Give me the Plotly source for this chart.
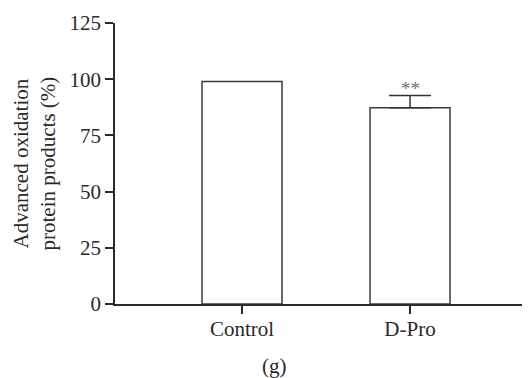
import plotly.graph_objects as go

categories = ["Control", "D-Pro"]
values = [99.0, 87.3]
errors_up = [0.0, 5.4]
y_ticks = [0, 25, 50, 75, 100, 125]
significance = "**"
y_title = "Advanced oxidation<br>protein products (%)"
panel_label = "(g)"

FONT = "Liberation Serif"
TXT = "#2a2a2a"
LINE = "#2a2a2a"

# page has an 8px body margin; figure sized/offset to compensate
PL, PT, PW, PH = 107, 15, 415, 281
FIG_W, FIG_H = 522, 370

fig = go.Figure()
fig.add_trace(go.Bar(
    x=categories, y=values, width=0.476,
    marker=dict(color="white", line=dict(color="#3a3a3a", width=1.5)),
    showlegend=False, hoverinfo="skip",
))
fig.add_trace(go.Scatter(
    x=[categories[1]], y=[values[1]], mode="markers",
    marker=dict(size=1, color="rgba(0,0,0,0)"),
    error_y=dict(type="data", symmetric=False, array=[errors_up[1]], arrayminus=[0],
                 width=21, thickness=1.5, color="#333333"),
    showlegend=False, hoverinfo="skip",
))

fig.add_annotation(x=categories[1], y=values[1] + errors_up[1], xref="x", yref="y",
                   text=significance, showarrow=False, yanchor="bottom", yshift=-5,
                   font=dict(family=FONT, size=19, color="#707070"))
fig.add_annotation(x=(26 - PL) / PW, y=0.5, xref="paper", yref="paper", text=y_title,
                   textangle=-90, showarrow=False, xanchor="center", yanchor="middle",
                   font=dict(family=FONT, size=21, color=TXT))
fig.add_annotation(x=(266 - PL) / PW, y=-(358 - (PT + PH)) / PH, xref="paper", yref="paper",
                   text=panel_label, showarrow=False, xanchor="center", yanchor="middle",
                   font=dict(family=FONT, size=21, color=TXT))

fig.update_layout(
    width=FIG_W, height=FIG_H, autosize=False,
    margin=dict(l=PL, r=FIG_W - PL - PW, t=PT, b=FIG_H - PT - PH, autoexpand=False),
    paper_bgcolor="white", plot_bgcolor="white",
    font=dict(family=FONT, size=21, color=TXT),
    xaxis=dict(range=[-0.756, 1.714], showline=True, linecolor=LINE, linewidth=1.5,
               ticks="outside", ticklen=8, tickwidth=1.5, tickcolor=LINE,
               ticklabelstandoff=-3,
               showgrid=False, zeroline=False, fixedrange=True, automargin=False,
               tickfont=dict(family=FONT, size=21, color=TXT)),
    yaxis=dict(range=[0, 125], tickvals=y_ticks, showline=True, linecolor=LINE, linewidth=1.5,
               ticks="outside", ticklen=8, tickwidth=1.5, tickcolor=LINE,
               showgrid=False, zeroline=False, fixedrange=True, automargin=False,
               tickfont=dict(family=FONT, size=21, color=TXT)),
)

fig.write_html("out.html")
